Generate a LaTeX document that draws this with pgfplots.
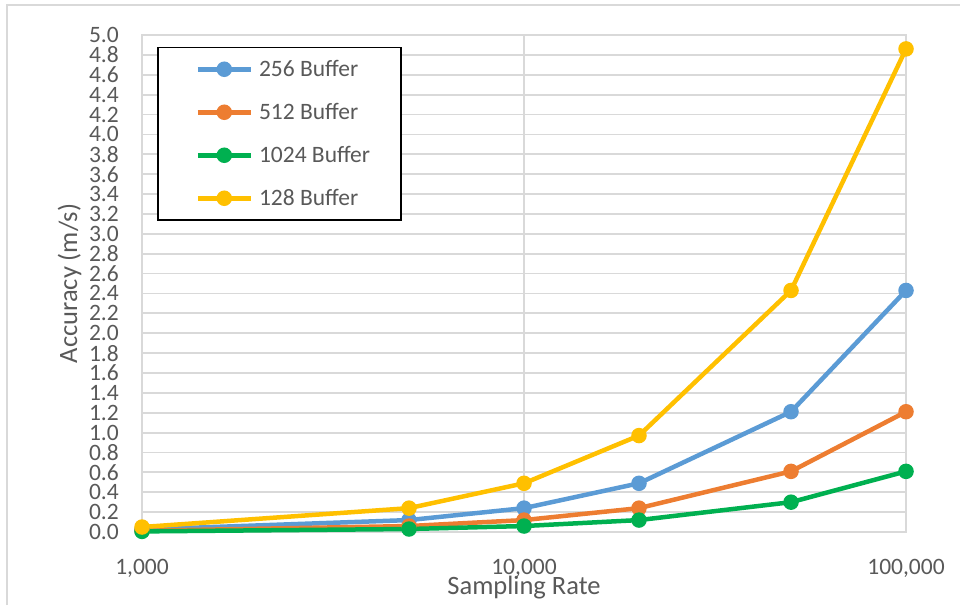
\documentclass[border=0pt]{standalone}
\usepackage{fontspec}
\setmainfont{Carlito}
\usepackage{pgfplots}
\pgfplotsset{compat=1.18}

\definecolor{cBlue}{HTML}{5B9BD5}
\definecolor{cOrange}{HTML}{ED7D31}
\definecolor{cGreen}{HTML}{00B050}
\definecolor{cYellow}{HTML}{FFC000}
\definecolor{gridgray}{HTML}{D9D9D9}
\definecolor{txt}{HTML}{595959}

\pgfplotsset{
  series/.style={color=#1, line width=4.5pt, mark=*, mark size=7pt,
    mark options={solid, fill=#1, draw=#1, line width=1.5pt}},
}

\begin{document}
\begin{tikzpicture}
\useasboundingbox (-142pt,-73pt) rectangle (818pt,532pt);
\begin{axis}[
  scale only axis,
  width=764pt, height=497pt,
  xmode=log,
  xmin=1000, xmax=100000,
  ymin=0, ymax=5,
  clip=false,
  xtick={1000,10000,100000},
  xticklabels={{1,000},{10,000},{100,000}},
  xminorticks=false,
  ytick={0,0.2,0.4,0.6,0.8,1.0,1.2,1.4,1.6,1.8,2.0,2.2,2.4,2.6,2.8,3.0,3.2,3.4,3.6,3.8,4.0,4.2,4.4,4.6,4.8,5.0},
  yticklabel style={/pgf/number format/.cd, fixed, fixed zerofill, precision=1, /tikz/.cd},
  /pgf/number format/assume math mode=true,
  major tick length=0pt,
  xmajorgrids, ymajorgrids,
  grid style={gridgray, line width=1.8pt},
  axis line style={gridgray, line width=1.8pt},
  tick label style={font=\fontsize{23.5}{23.5}\selectfont, color=txt, inner sep=0pt},
  xticklabel shift=27pt,
  yticklabel shift=23pt,
  xlabel={Sampling Rate},
  ylabel={Accuracy (m/s)},
  label style={font=\fontsize{26.5}{26.5}\selectfont, color=txt, inner sep=0pt},
  xlabel style={at={([yshift=-62pt]rel axis cs:0.5,0)}, anchor=base},
  ylabel style={at={([xshift=-65pt]rel axis cs:0,0.5)}, anchor=base},
  legend image code/.code={
    \path[draw=none, fill=none] (-40pt,0pt) -- (53pt,0pt);
    \draw[mark repeat=2, mark phase=2] plot coordinates {(0pt,0pt) (26.5pt,0pt) (53pt,0pt)};
  },
  legend cell align=left,
  legend style={
    at={(rel axis cs:0.01963,0.97586)}, anchor=north west,
    draw=black, line width=1.5pt,
    inner xsep=0pt, inner ysep=0pt,
    nodes={inner sep=0pt, minimum height=43pt, font=\fontsize{23.5}{23.5}\selectfont, text=txt},
  },
]
\addplot[series=cBlue] coordinates {(1000,0.025) (5000,0.12) (10000,0.24) (20000,0.49) (50000,1.21) (100000,2.43)};
\addlegendentry{\makebox[148pt][l]{\hspace{6pt}256 Buffer}}
\addplot[series=cOrange] coordinates {(1000,0.012) (5000,0.06) (10000,0.12) (20000,0.24) (50000,0.61) (100000,1.21)};
\addlegendentry{\makebox[148pt][l]{\hspace{6pt}512 Buffer}}
\addplot[series=cGreen] coordinates {(1000,0.006) (5000,0.03) (10000,0.06) (20000,0.12) (50000,0.30) (100000,0.61)};
\addlegendentry{\makebox[148pt][l]{\hspace{6pt}1024 Buffer}}
\addplot[series=cYellow] coordinates {(1000,0.05) (5000,0.24) (10000,0.49) (20000,0.97) (50000,2.43) (100000,4.86)};
\addlegendentry{\makebox[148pt][l]{\hspace{6pt}128 Buffer}}
\end{axis}
\draw[gridgray, line width=1.5pt] (-135pt,-73pt) -- (-135pt,527pt) -- (818pt,527pt);
\end{tikzpicture}
\end{document}
